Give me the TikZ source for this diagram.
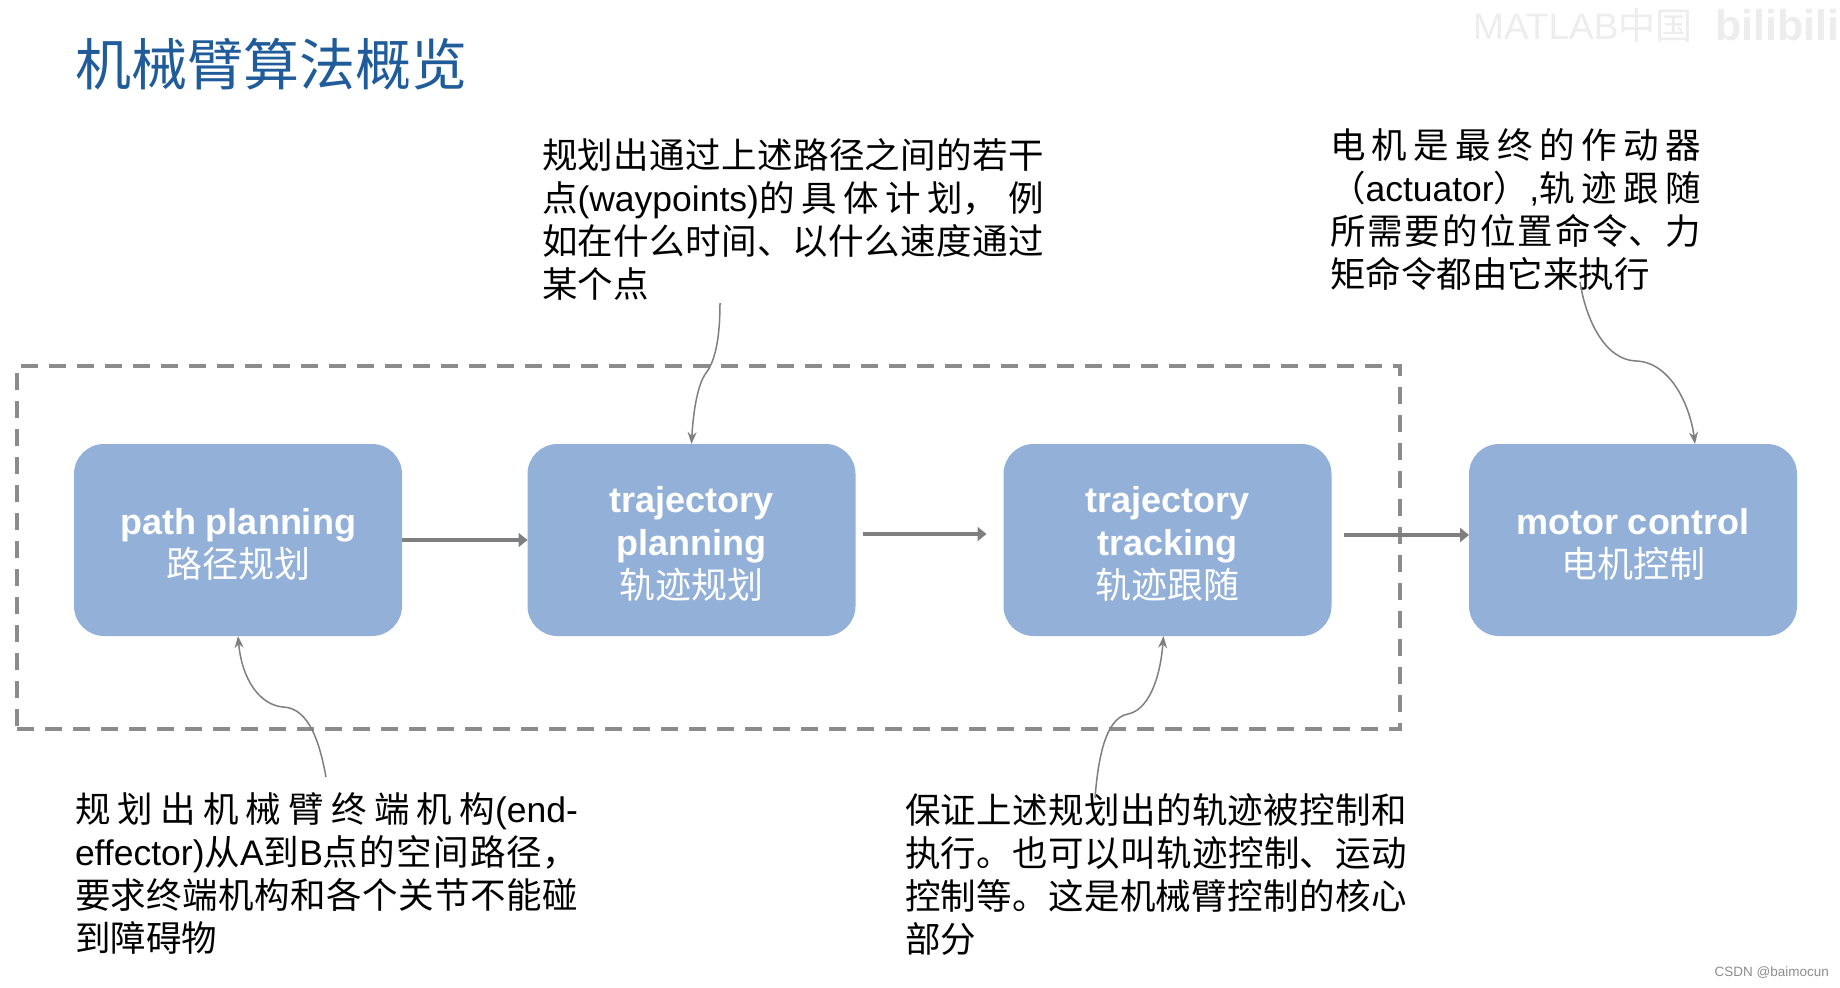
\documentclass[tikz,border=0pt]{standalone}
\usepackage{fontspec}
\usetikzlibrary{arrows.meta}
\setmainfont{Noto Sans CJK SC}
\newfontfamily\latfont{Liberation Sans}
\newcommand{\lat}[1]{{\latfont #1}}
\newcommand{\bl}[1]{{\latfont\bfseries #1}}
\newcommand{\topstrut}{\rule{0pt}{34pt}}
\XeTeXlinebreaklocale "zh"
\XeTeXlinebreakskip=0pt plus 12pt
\tolerance=9999
\hbadness=10000
\hfuzz=5pt
\definecolor{boxblue}{HTML}{92B0D8}
\definecolor{titleblue}{HTML}{1F5C99}
\definecolor{linegray}{HTML}{7F7F7F}
\definecolor{dashgray}{HTML}{8C8C8C}

\begin{document}
\begin{tikzpicture}[x=1pt,y=-1pt]
	
	% Styles for boxes, notes and connectors
	\tikzset{
		flowbox/.style={rectangle,rounded corners=30pt,fill=boxblue,text=white,inner sep=0pt,outer sep=0pt,
			minimum width=328pt,minimum height=192pt,align=center,font=\fontsize{36}{43}\selectfont},
		groupbox/.style={rectangle,draw=dashgray,line width=3.5pt,dash pattern=on 17pt off 11pt,inner sep=0pt,
			minimum width=1383pt,minimum height=363pt},
		notetext/.style={anchor=north west,inner sep=0pt,outer sep=0pt,align=justify,
			font=\fontsize{35.5}{43}\selectfont},
		flowarrow/.style={-{Triangle[length=9pt,width=14pt]},draw=linegray,line width=3.5pt},
		notearrow/.style={-{Stealth[length=12pt,width=9pt]},draw=linegray,line width=1.5pt}
	}
	\useasboundingbox (0,0) rectangle (1840,988);
	
	%========================================
	% Title and the marks of the video frame
	%========================================
	\node[anchor=west,inner sep=0pt,text=titleblue,font=\fontsize{56}{60}\selectfont] (title) at (75,64) {机械臂算法概览};
	\node[anchor=west,inner sep=0pt,text=black!7,font=\fontsize{37}{40}\selectfont] (matlabmark) at (1473,25) {\lat{MATLAB}中国};
	\node[anchor=west,inner sep=0pt,text=black!7,font=\fontsize{43}{46}\selectfont] (bilimark) at (1715,25) {\bl{bilibili}};
	\node[anchor=east,inner sep=0pt,text=black!45,font=\fontsize{13.5}{15}\selectfont] (csdnmark) at (1829,973) {\lat{CSDN @baimocun}};
	
	%========================================
	% Dashed group round the first three boxes
	%========================================
	\node[groupbox] (group) at (708.5,547.5) {};
	
	% Flow boxes
	\node[flowbox] (pathbox) at (238,540) {\topstrut\bl{path planning}\\路径规划};
	\node[flowbox] (planbox) at (691.5,540) {\topstrut\bl{trajectory}\\\bl{planning}\\轨迹规划};
	\node[flowbox] (trackbox) at (1167.5,540) {\topstrut\bl{trajectory}\\\bl{tracking}\\轨迹跟随};
	\node[flowbox] (motorbox) at (1633,540) {\topstrut\bl{motor control}\\电机控制};
	
	% Arrows between the boxes
	\draw[flowarrow] (pathbox) -- (planbox);
	\draw[flowarrow] ([xshift=7pt,yshift=6pt]planbox.east) -- ([xshift=-17pt,yshift=6pt]trackbox.west);
	\draw[flowarrow] ([xshift=12pt,yshift=5pt]trackbox.east) -- ([yshift=5pt]motorbox.west);
	
	%========================================
	% Notes
	%========================================
	\node[notetext,text width=502pt] (plannote) at (542,138.5) {规划出通过上述路径之间的若干\break
		点\lat{(waypoints)}的具体计划， 例\break
		如在什么时间、以什么速度通过\break
		某个点};
	\node[notetext,text width=371pt] (motornote) at (1330,128.5) {电机是最终的作动器\break
		（\lat{actuator}）\lat{,}轨迹跟随\break
		所需要的位置命令、力\break
		矩命令都由它来执行};
	\node[notetext,text width=503pt] (pathnote) at (75,792.5) {规划出机械臂终端机构\lat{(end-}\break
		\lat{effector)}从\lat{A}到\lat{B}点的空间路径，\break
		要求终端机构和各个关节不能碰\break
		到障碍物};
	\node[notetext,text width=502pt] (tracknote) at (905,793.5) {保证上述规划出的轨迹被控制和\break
		执行。也可以叫轨迹控制、运动\break
		控制等。这是机械臂控制的核心\break
		部分};
	
	% Free ends of the note arrows
	\coordinate (planfree) at (720,303);
	\coordinate (motorfree) at (1580,282);
	\coordinate (pathfree) at (326,777);
	\coordinate (trackfree) at (1095,798);
	
	% Note arrows
	\draw[notearrow] (planfree) .. controls (720,335) and (716,360) .. (706,373)
		.. controls (697,385) and (693,415) .. (planbox.north);
	\draw[notearrow] (motorfree) .. controls (1586,320) and (1605,360) .. (1636,361)
		.. controls (1670,362) and (1690,405) .. ([xshift=62pt]motorbox.north);
	\draw[notearrow] (pathfree) .. controls (320,745) and (310,708) .. (283,707)
		.. controls (260,705) and (242,680) .. (pathbox.south);
	\draw[notearrow] (trackfree) .. controls (1098,760) and (1105,718) .. (1128,714)
		.. controls (1148,710) and (1160,680) .. ([xshift=-4pt]trackbox.south);
	
\end{tikzpicture}
\end{document}
